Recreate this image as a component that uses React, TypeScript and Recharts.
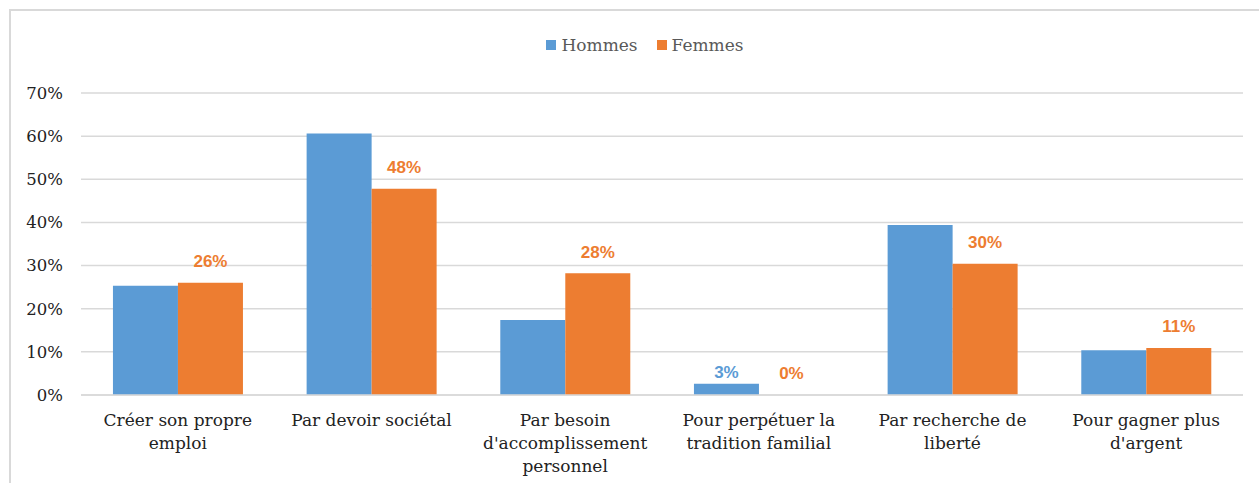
import React from "react";
import { BarChart, Bar, XAxis, YAxis, CartesianGrid, Legend, LabelList, Cell } from "recharts";

const categories = [
  "Créer son propre emploi",
  "Par devoir sociétal",
  "Par besoin d'accomplissement personnel",
  "Pour perpétuer la tradition familial",
  "Par recherche de liberté",
  "Pour gagner plus d'argent",
];
const tickLines = [
  ["Créer son propre", "emploi"],
  ["Par devoir sociétal"],
  ["Par besoin", "d'accomplissement", "personnel"],
  ["Pour perpétuer la", "tradition familial"],
  ["Par recherche de", "liberté"],
  ["Pour gagner plus", "d'argent"],
];
const hommes = [25.3, 60.6, 17.4, 2.6, 39.4, 10.4];
const femmes = [26.0, 47.8, 28.2, 0, 30.4, 10.9];
const hommesLabels = ["", "", "", "3%", "", ""];
const femmesLabels = ["26%", "48%", "28%", "0%", "30%", "11%"];
const yTicks = [0, 10, 20, 30, 40, 50, 60, 70];

const BLUE = "#5B9BD5";
const ORANGE = "#ED7D31";
const SERIF = "'DejaVu Serif', serif";
const SANS = "'Liberation Sans', Arial, sans-serif";

const data = categories.map((c, i) => ({
  name: c,
  hommes: hommes[i],
  femmes: femmes[i],
  hLabel: hommesLabels[i],
  fLabel: femmesLabels[i],
}));

const CatTick = (props: any) => {
  const { x, y, payload } = props;
  const lines = tickLines[payload.index] || [payload.value];
  return (
    <g>
      {lines.map((l: string, k: number) => (
        <text
          key={k}
          x={x}
          y={y + 17 + k * 23}
          textAnchor="middle"
          dominantBaseline="central"
          fontFamily={SERIF}
          fontSize={17}
          fill="#222"
        >
          {l}
        </text>
      ))}
    </g>
  );
};

const makeLabel = (color: string, off: number) => (props: any) => {
  const { x, y, width, value } = props;
  if (!value) return null;
  return (
    <text
      x={x + width / 2}
      y={y - off}
      textAnchor="middle"
      dominantBaseline="central"
      fontFamily={SANS}
      fontWeight="bold"
      fontSize={17}
      fill={color}
    >
      {value}
    </text>
  );
};

const LegendContent = () => (
  <div style={{ display: "flex", justifyContent: "center", alignItems: "center", fontFamily: SERIF, fontSize: 17, color: "#595959" }}>
    <span style={{ display: "inline-block", width: 10, height: 10, background: BLUE, marginRight: 5 }} />
    <span style={{ marginRight: 19 }}>Hommes</span>
    <span style={{ display: "inline-block", width: 10, height: 10, background: ORANGE, marginRight: 5 }} />
    <span>Femmes</span>
  </div>
);

export default function App() {
  return (
    <div style={{ position: "fixed", left: 0, top: 0, width: 1259, height: 483, overflow: "hidden", background: "#fff" }}>
      <div
        style={{
          position: "absolute",
          left: 9,
          top: 9,
          width: 1300,
          height: 520,
          border: "2px solid #d9d9d9",
          boxSizing: "border-box",
        }}
      />
      <div style={{ position: "absolute", left: 0, top: 0 }}>
        <BarChart
          width={1259}
          height={483}
          data={data}
          margin={{ top: 93, right: 16, bottom: 8, left: 0 }}
          barCategoryGap="16.5%"
          barGap={0}
        >
          <CartesianGrid horizontal vertical={false} stroke="#d9d9d9" strokeWidth={1.5} />
          <XAxis
            dataKey="name"
            height={80}
            tickLine={false}
            axisLine={{ stroke: "#d9d9d9", strokeWidth: 1.5 }}
            tick={<CatTick />}
            interval={0}
          />
          <YAxis
            width={81}
            domain={[0, 70]}
            ticks={yTicks}
            tickFormatter={(v: number) => `${v}%`}
            axisLine={false}
            tickLine={false}
            tickMargin={12}
            tick={{ fontFamily: SERIF, fontSize: 16.5, fill: "#222" }}
          />
          <Legend
            verticalAlign="middle"
            align="center"
            layout="horizontal"
            content={<LegendContent />}
            wrapperStyle={{ top: 35, left: 0, width: 1290, height: 22 }}
          />
          <Bar dataKey="hommes" name="Hommes" fill={BLUE} isAnimationActive={false}>
            <LabelList dataKey="hLabel" content={makeLabel(BLUE, 11)} />
          </Bar>
          <Bar
            dataKey="femmes"
            name="Femmes"
            fill={ORANGE}
            isAnimationActive={false}
            minPointSize={(v: number) => (v === 0 ? 1 : 0)}
          >
            {data.map((d, i) => (
              <Cell key={i} fill={d.femmes === 0 ? "transparent" : ORANGE} />
            ))}
            <LabelList dataKey="fLabel" content={makeLabel(ORANGE, 21)} />
          </Bar>
        </BarChart>
      </div>
    </div>
  );
}
